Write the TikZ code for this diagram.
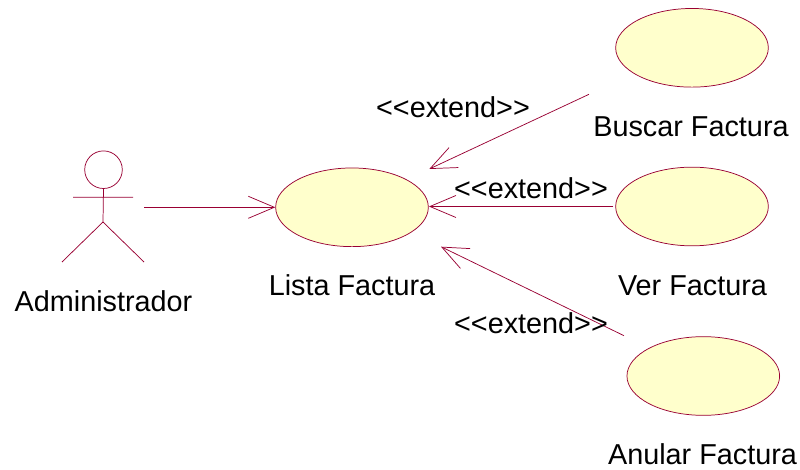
\documentclass[tikz,border=0pt]{standalone}
\usepackage{fontspec}
\setmainfont{Liberation Sans}
\usetikzlibrary{arrows.meta,shapes.geometric}
\definecolor{umlline}{RGB}{153,0,51}
\definecolor{umlfill}{RGB}{255,255,204}
\tikzset{
  x=0.75pt,y=-0.75pt,
  usecase/.style={draw=umlline,fill=umlfill,ellipse,minimum width=114.5pt,minimum height=59pt,inner sep=0pt,line width=0.55pt},
  lbl/.style={inner sep=0pt,anchor=base,font=\fontsize{21.6pt}{24pt}\selectfont,text=black},
  conn/.style={draw=umlline,line width=0.55pt,-{Straight Barb[length=19.5pt,width=16.5pt,line width=0.55pt]}},
  actorline/.style={draw=umlline,line width=0.55pt}
}
\begin{document}
\begin{tikzpicture}
\useasboundingbox (0,0) rectangle (800,470);
\fill[white] (0,0) rectangle (800,470);
\node[usecase] (lista) at (352,207.3) {};
\node[usecase] (buscar) at (692,47.8) {};
\node[usecase] (ver) at (692,206.5) {};
\node[usecase] (anular) at (703.3,376) {};
\coordinate (as) at (144.3,207.3);
\coordinate (bs) at (589,94.3);
\coordinate (be) at (429.3,169);
\coordinate (vs) at (613.3,206.5);
\coordinate (ve) at (429,206.5);
\coordinate (ns) at (624,335.7);
\coordinate (ne) at (441,246.7);
\draw[conn] (as) -- (lista.west);
\draw[conn] (bs) -- (be);
\draw[conn] (vs) -- (ve);
\draw[conn] (ns) -- (ne);
\node[lbl] (tl) at (352,296) {Lista Factura};
\node[lbl] (tb) at (691,137) {Buscar Factura};
\node[lbl] (tv) at (692.5,295.5) {Ver Factura};
\node[lbl] (ta) at (702.5,464.5) {Anular Factura};
\node[lbl] (ta2) at (103.5,312) {Administrador};
\node[lbl] (e1) at (453,117.7) {<{}<{}extend>{}>};
\node[lbl] (e2) at (531,198.3) {<{}<{}extend>{}>};
\node[lbl] (e3) at (531,333.7) {<{}<{}extend>{}>};
\node[draw=umlline,line width=0.55pt,circle,minimum size=28.2pt,inner sep=0pt] (head) at (103.5,169.7) {};
\coordinate (hip) at (103,222);
\coordinate (la) at (73,197.3);
\coordinate (ra) at (133,197.3);
\coordinate (lf) at (62,262);
\coordinate (rf) at (144,262);
\draw[actorline] (head.south) -- (hip) (la) -- (ra) (hip) -- (lf) (hip) -- (rf);
\end{tikzpicture}
\end{document}
